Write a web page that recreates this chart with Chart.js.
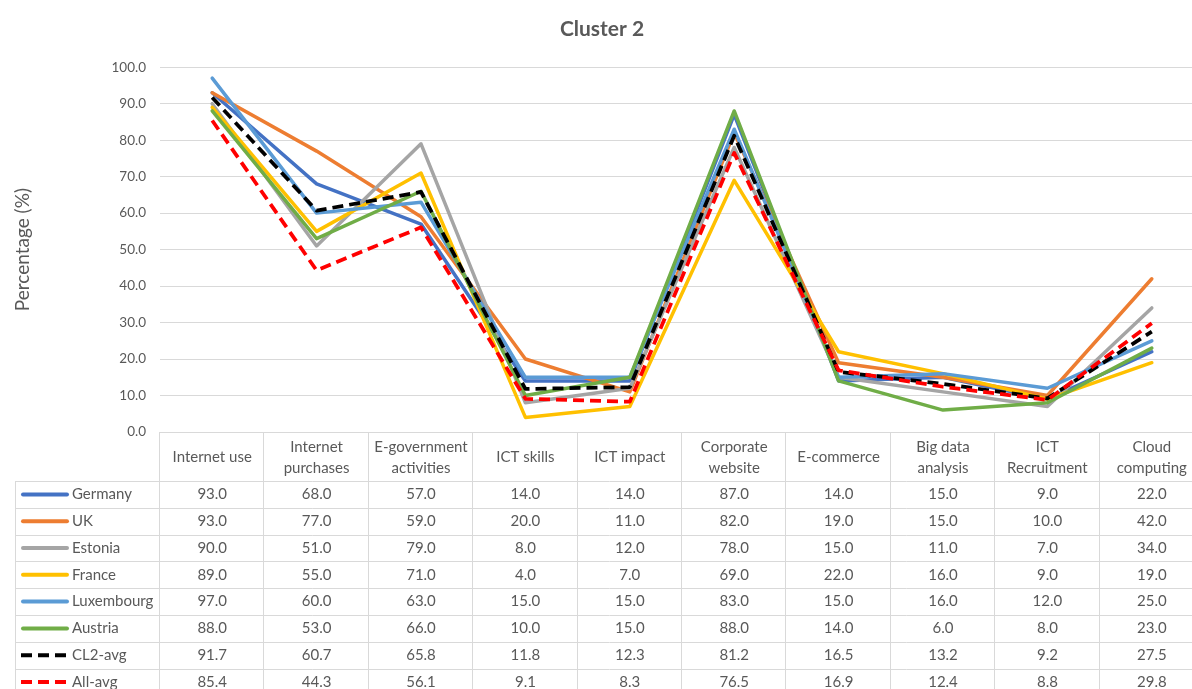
<!DOCTYPE html>
<html>
<head>
<meta charset="utf-8">
<script src="https://cdn.jsdelivr.net/npm/chart.js@4.4.1/dist/chart.umd.min.js"></script>
<style>
  html, body { margin: 0; padding: 0; background: #fff; overflow: hidden; }
  #wrap { position: absolute; left: 0; top: 0; width: 1204px; height: 696px; }
</style>
</head>
<body>
<div id="wrap"><canvas id="c" width="1204" height="696"></canvas></div>
<script>
// Indicator categories (header rows of the data table)
const categories = [
  ["Internet use"],
  ["Internet", "purchases"],
  ["E-government", "activities"],
  ["ICT skills"],
  ["ICT impact"],
  ["Corporate", "website"],
  ["E-commerce"],
  ["Big data", "analysis"],
  ["ICT", "Recruitment"],
  ["Cloud", "computing"]
];

// Percentage values per country / average
const germany    = [93.0, 68.0, 57.0, 14.0, 14.0, 87.0, 14.0, 15.0, 9.0, 22.0];
const uk         = [93.0, 77.0, 59.0, 20.0, 11.0, 82.0, 19.0, 15.0, 10.0, 42.0];
const estonia    = [90.0, 51.0, 79.0, 8.0, 12.0, 78.0, 15.0, 11.0, 7.0, 34.0];
const france     = [89.0, 55.0, 71.0, 4.0, 7.0, 69.0, 22.0, 16.0, 9.0, 19.0];
const luxembourg = [97.0, 60.0, 63.0, 15.0, 15.0, 83.0, 15.0, 16.0, 12.0, 25.0];
const austria    = [88.0, 53.0, 66.0, 10.0, 15.0, 88.0, 14.0, 6.0, 8.0, 23.0];
const cl2Avg     = [91.7, 60.7, 65.8, 11.8, 12.3, 81.2, 16.5, 13.2, 9.2, 27.5];
const allAvg     = [85.4, 44.3, 56.1, 9.1, 8.3, 76.5, 16.9, 12.4, 8.8, 29.8];

const seriesNames = ["Germany", "UK", "Estonia", "France", "Luxembourg", "Austria", "CL2-avg", "All-avg"];
const seriesData = [germany, uk, estonia, france, luxembourg, austria, cl2Avg, allAvg];
const seriesColors = ["#4472C4", "#ED7D31", "#A5A5A5", "#FFC000", "#5B9BD5", "#70AD47", "#000000", "#FF0000"];
const seriesDashed = [false, false, false, false, false, false, true, true];

const yTicks = [0, 10, 20, 30, 40, 50, 60, 70, 80, 90, 100];

const TEXT = "#595959";
const GRID = "#D9D9D9";
const FONT = "Lato, 'Open Sans', sans-serif";
const DASH = [11, 6];

const datasets = seriesNames.map((name, i) => ({
  label: name,
  data: seriesData[i],
  borderColor: seriesColors[i],
  backgroundColor: seriesColors[i],
  borderWidth: seriesDashed[i] ? 3.75 : 3.5,
  borderDash: seriesDashed[i] ? DASH : [],
  borderCapStyle: seriesDashed[i] ? "butt" : "round",
  borderJoinStyle: "round",
  pointRadius: 0,
  pointHoverRadius: 0,
  tension: 0,
  fill: false,
  // later series are painted above earlier ones
  order: seriesNames.length - i
}));

// Data table under the plot: header with categories, one row per series
const HEADER_H = 49;
const ROW_H = 26.8;
const TABLE_LEFT = 15;
const dataTable = {
  id: "dataTable",
  afterDraw(chart) {
    const ctx = chart.ctx;
    const x = chart.scales.x;
    const area = chart.chartArea;
    const n = categories.length;
    const colW = (area.right - area.left) / n;
    const top = area.bottom;
    const rowsTop = top + HEADER_H;
    const bottom = rowsTop + ROW_H * seriesNames.length;

    ctx.save();
    ctx.strokeStyle = GRID;
    ctx.lineWidth = 1;
    ctx.beginPath();
    // header top border
    ctx.moveTo(area.left, Math.round(top) + 0.5);
    ctx.lineTo(area.right, Math.round(top) + 0.5);
    // row borders
    for (let r = 0; r <= seriesNames.length; r++) {
      const y = Math.round(rowsTop + r * ROW_H) + 0.5;
      ctx.moveTo(TABLE_LEFT, y);
      ctx.lineTo(area.right, y);
    }
    // column borders
    for (let c = 0; c <= n; c++) {
      const xx = Math.round(area.left + c * colW) - 0.5;
      ctx.moveTo(xx, top);
      ctx.lineTo(xx, bottom);
    }
    ctx.moveTo(TABLE_LEFT + 0.5, rowsTop);
    ctx.lineTo(TABLE_LEFT + 0.5, bottom);
    ctx.stroke();

    ctx.fillStyle = TEXT;
    ctx.font = "15px " + FONT;
    ctx.textAlign = "center";
    ctx.textBaseline = "middle";
    // header labels
    categories.forEach((lines, c) => {
      const cx = x.getPixelForValue(c);
      const lh = 21;
      const cy = top + HEADER_H / 2 + 1;
      lines.forEach((t, k) => {
        ctx.fillText(t, cx, cy + (k - (lines.length - 1) / 2) * lh);
      });
    });
    // rows
    seriesNames.forEach((name, r) => {
      const cy = rowsTop + r * ROW_H + ROW_H / 2;
      ctx.save();
      ctx.strokeStyle = seriesColors[r];
      ctx.lineWidth = 4;
      ctx.setLineDash(seriesDashed[r] ? DASH : []);
      ctx.lineCap = seriesDashed[r] ? "butt" : "round";
      ctx.beginPath();
      ctx.moveTo(seriesDashed[r] ? 21 : 23, cy);
      ctx.lineTo(seriesDashed[r] ? 68 : 67, cy);
      ctx.stroke();
      ctx.restore();
      ctx.textAlign = "left";
      ctx.fillText(name, 72, cy);
      ctx.textAlign = "center";
      seriesData[r].forEach((v, c) => {
        ctx.fillText(v.toFixed(1), x.getPixelForValue(c), cy);
      });
    });
    ctx.restore();
  }
};

new Chart(document.getElementById("c"), {
  type: "line",
  data: { labels: categories.map(l => l.join(" ")), datasets },
  plugins: [dataTable],
  options: {
    responsive: false,
    devicePixelRatio: 1,
    animation: false,
    layout: { padding: { left: 0, right: 0, top: 0, bottom: 264 } },
    plugins: {
      legend: { display: false },
      tooltip: { enabled: false },
      title: {
        display: true,
        text: "Cluster 2",
        color: TEXT,
        font: { family: FONT, size: 21, weight: "bold" },
        padding: { top: 17, bottom: 25 }
      }
    },
    scales: {
      x: {
        type: "category",
        display: false,
        offset: true,
        grid: { display: false }
      },
      y: {
        min: 0,
        max: 100,
        afterBuildTicks(scale) { scale.ticks = yTicks.map(v => ({ value: v })); },
        afterFit(scale) { scale.width = 160; },
        border: { display: false },
        grid: { color: GRID, lineWidth: 1, drawTicks: false },
        ticks: {
          color: TEXT,
          font: { family: FONT, size: 13.5 },
          padding: 14,
          callback: v => Number(v).toFixed(1)
        },
        title: {
          display: true,
          text: "Percentage (%)",
          color: TEXT,
          font: { family: FONT, size: 19 },
          padding: { top: 11, bottom: 0 }
        }
      }
    }
  }
});
</script>
</body>
</html>
